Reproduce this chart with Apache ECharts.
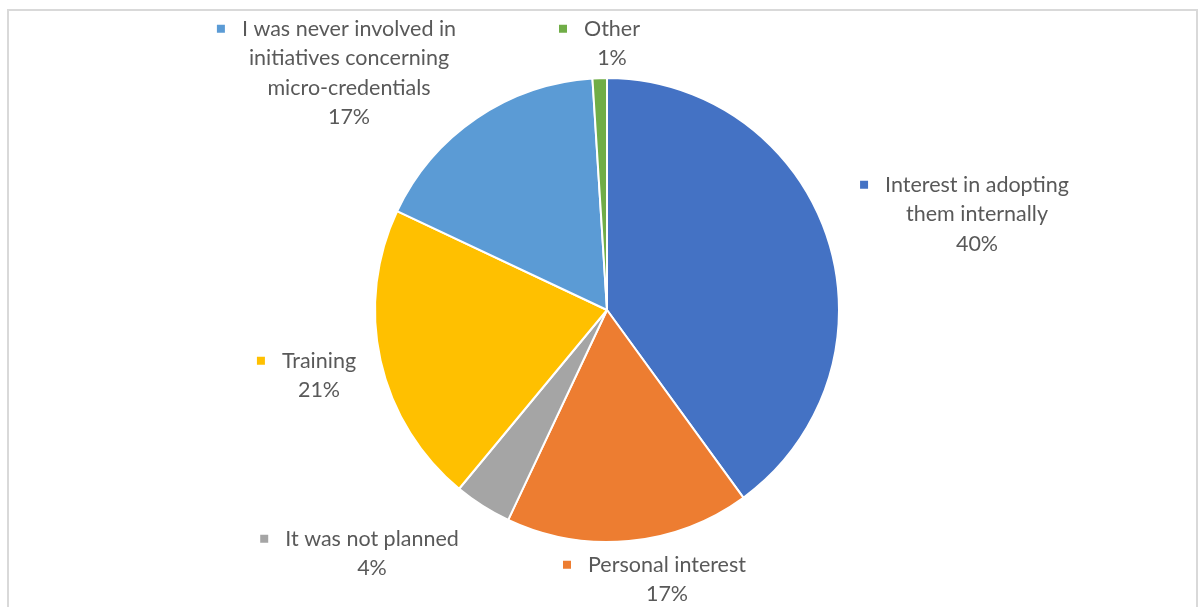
<!DOCTYPE html>
<html>
<head>
<meta charset="utf-8">
<script src="https://cdn.jsdelivr.net/npm/echarts@6/dist/echarts.min.js"></script>
<style>
  html, body { margin: 0; padding: 0; background: #ffffff; }
  #chart { width: 1200px; height: 607px; }
</style>
</head>
<body>
<div id="chart"></div>
<script>
// Reasons for involvement in micro-credential initiatives (share of respondents, %)
const categories = [
  'Interest in adopting\nthem internally',
  'Personal interest',
  'It was not planned',
  'Training',
  'I was never involved in\ninitiatives concerning\nmicro-credentials',
  'Other'
];
const shares = [40, 17, 4, 21, 17, 1];
const sliceColors = ['#4472C4', '#ED7D31', '#A5A5A5', '#FFC000', '#5B9BD5', '#70AD47'];

// Where each label block sits (top-centre of the text block, in pixels)
const labelAnchors = [[977, 170], [667, 550], [372, 524], [319, 346], [349, 14], [612, 14]];

const TEXT = '#595959';
const FONT = 'Lato, "Open Sans", sans-serif';
const FS = 21.5;
const LH = 29.5;

const rich = {
  gap: { width: 17, lineHeight: LH },
  pad: { width: 25, lineHeight: LH },
  t: { color: TEXT, fontFamily: FONT, fontSize: FS, lineHeight: LH }
};
sliceColors.forEach((c, i) => {
  rich['sq' + i] = { width: 8, height: 8, backgroundColor: c, lineHeight: LH };
});

const chart = echarts.init(document.getElementById('chart'), null, { renderer: 'canvas' });

chart.setOption({
  backgroundColor: '#ffffff',
  animation: false,
  graphic: [{
    type: 'rect',
    shape: { x: 8, y: 10, width: 1189, height: 620 },
    style: { fill: 'none', stroke: '#d9d9d9', lineWidth: 2 },
    silent: true
  }],
  series: [{
    type: 'pie',
    center: [607, 310],
    radius: 232,
    startAngle: 90,
    clockwise: true,
    avoidLabelOverlap: false,
    itemStyle: { borderColor: '#ffffff', borderWidth: 2 },
    data: categories.map((name, i) => ({
      name: name,
      value: shares[i],
      itemStyle: { color: sliceColors[i] }
    })),
    label: {
      show: true,
      position: 'outside',
      color: TEXT,
      fontFamily: FONT,
      fontSize: FS,
      lineHeight: LH,
      formatter: function (p) {
        const lines = p.name.split('\n');
        const out = ['{sq' + p.dataIndex + '|}{gap|}{t|' + lines[0] + '}{pad|}'];
        for (let k = 1; k < lines.length; k++) out.push('{t|' + lines[k] + '}');
        out.push('{t|' + p.value + '%}');
        return out.join('\n');
      },
      rich: rich
    },
    labelLine: { show: false },
    labelLayout: function (params) {
      const a = labelAnchors[params.dataIndex];
      return { x: a[0], y: a[1], align: 'center', verticalAlign: 'top' };
    },
    emphasis: { disabled: true }
  }]
});
</script>
</body>
</html>
